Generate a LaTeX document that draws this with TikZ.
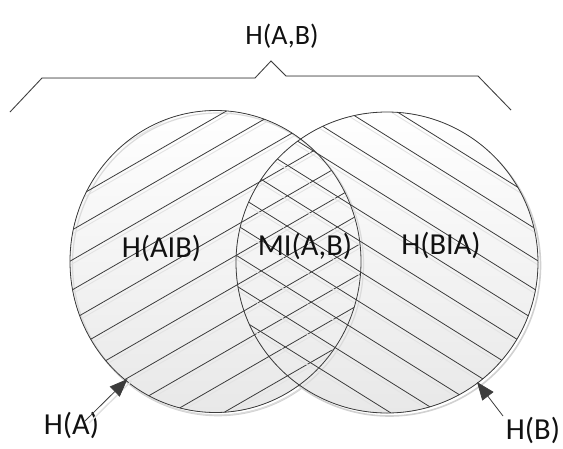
\documentclass[tikz,border=0pt]{standalone}
\usepackage{fontspec}
\setmainfont{Carlito}
\usetikzlibrary{arrows.meta}
\definecolor{ink}{HTML}{3C3C3C}
\definecolor{txt}{HTML}{111111}
\begin{document}
\begin{tikzpicture}[x=1pt,y=-1pt,
  outline/.style={draw=ink,line width=0.8pt},
  hatch/.style={draw=ink,line width=0.8pt},
  hatchshade/.style={draw=black!11,line width=0.9pt},
  ringshade/.style={draw=black!18,line width=1.6pt},
  bodyfill/.style={top color=white,bottom color=black!9},
  bigtxt/.style={text=txt,inner sep=0pt,font=\fontsize{28}{32}\selectfont},
  lbl/.style={text=txt,inner sep=0pt,font=\fontsize{30.5}{34}\selectfont},
  pointer/.style={draw=ink,line width=0.8pt,-{Triangle[length=18pt,width=14pt]}}]
\useasboundingbox (0,0) rectangle (563,448);

% entropy regions: left set A, right set B
\coordinate (ca) at (215.5,261.5);
\coordinate (cb) at (387,262.5);
\def\ellA{(ca) ellipse [x radius=145.5, y radius=151]}
\def\ellB{(cb) ellipse [x radius=151, y radius=150.5]}

% soft shadows below the sets
\draw[ringshade] ([shift={(2.5,3)}]ca) ellipse [x radius=145.5, y radius=151];
\draw[ringshade] ([shift={(2.5,3)}]cb) ellipse [x radius=151, y radius=150.5];

% shaded bodies
\fill[bodyfill] \ellA;
\fill[bodyfill] \ellB;
\draw[draw=black!14,line width=1.2pt] ([shift={(2.5,2.5)}]ca) ellipse [x radius=145.5, y radius=151];

% hatching of A, rising to the right
\begin{scope}
  \clip \ellA;
  \foreach \k in {-5,...,11}{
    \draw[hatchshade] (40,{177.5+30*\k+101+4}) -- (400,{177.5+30*\k-106.6+4});
  }
  \foreach \k in {-5,...,11}{
    \draw[hatch] (40,{177.5+30*\k+101}) -- (400,{177.5+30*\k-106.6});
  }
\end{scope}

% hatching of B, falling to the right
\begin{scope}
  \clip \ellB;
  \foreach \k in {-4,...,11}{
    \draw[hatchshade] (225,{136+30.5*\k-101.25+4}) -- (550,{136+30.5*\k+101.9+4});
  }
  \foreach \k in {-4,...,11}{
    \draw[hatch] (225,{136+30.5*\k-101.25}) -- (550,{136+30.5*\k+101.9});
  }
\end{scope}

% set outlines
\draw[outline] \ellA;
\draw[outline] \ellB;

% brace spanning the joint entropy
\coordinate (b1) at (10,112);
\coordinate (b2) at (42,78);
\coordinate (b3) at (255,78);
\coordinate (b4) at (271,61);
\coordinate (b5) at (286,76);
\coordinate (b6) at (478,76);
\coordinate (b7) at (511,110);
\draw[draw=black!15,line width=1pt,shift={(1.5,2)}] (b1) -- (b2) -- (b3) -- (b4) -- (b5) -- (b6) -- (b7);
\draw[outline] (b1) -- (b2) -- (b3) -- (b4) -- (b5) -- (b6) -- (b7);

% labels
\node[bigtxt] (hab) at (282,36) {H(A,B)};
\node[lbl] (hagb) at (161.5,248) {H(AIB)};
\node[lbl] (mi) at (305,246) {MI(A,B)};
\node[lbl] (hbga) at (441,245) {H(BIA)};
\node[lbl] (ha) at (71.5,425) {H(A)};
\node[lbl] (hb) at (533,430) {H(B)};

% pointers to the set boundaries
\coordinate (pa) at (127.5,379);
\coordinate (pb) at (477,382);
\coordinate (sa) at (85,421);
\coordinate (sb) at (503,416);
\draw[draw=black!12,line width=1.4pt] ([shift={(4,2)}]sa) -- ([shift={(4,2)}]pa);
\draw[pointer] (sa) -- (pa);
\draw[pointer] (sb) -- (pb);
\end{tikzpicture}
\end{document}
